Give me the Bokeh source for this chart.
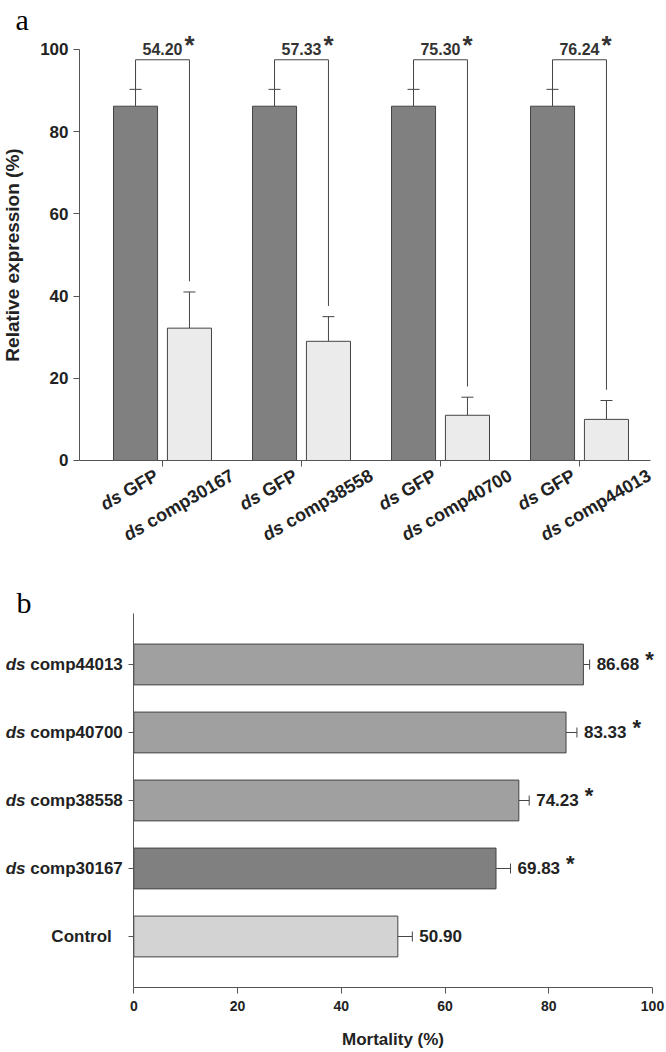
import math
import numpy as np
from bokeh.plotting import figure
from bokeh.models import (ColumnDataSource, Whisker, TeeHead, Label, FixedTicker, Range1d,
                          LinearAxis)
from bokeh.layouts import column
from bokeh.embed import file_html
from bokeh.resources import INLINE
from bokeh.core.properties import value

# ---------------- Panel a data ----------------
GENES = ["ds comp30167", "ds comp38558", "ds comp40700", "ds comp44013"]
CTRL_LABEL = "ds GFP"
CTRL_EXPR = [86.2, 86.2, 86.2, 86.2]
CTRL_ERR = [4.1, 4.1, 4.1, 4.1]
KD_EXPR = [32.2, 29.0, 11.0, 10.0]
KD_ERR = [8.8, 6.0, 4.4, 4.6]
SILENCING = ["54.20", "57.33", "75.30", "76.24"]
Y_TICKS_A = [0, 20, 40, 60, 80, 100]

# ---------------- Panel b data ----------------
MORT_CATS = ["Control", "ds comp30167", "ds comp38558", "ds comp40700", "ds comp44013"]
MORT_VALUES = [50.90, 69.83, 74.23, 83.33, 86.68]
MORT_ERR = [2.8, 2.8, 2.0, 2.1, 1.2]
MORT_SIG = [False, True, True, True, True]
X_TICKS_B = [0, 20, 40, 60, 80, 100]

FONT = "Liberation Sans"
TXT = "#222222"
AX = "#555555"
EDGE = "#444444"

# Liberation Sans Bold advance widths (em) for width estimates
ADV = {"c": .556, "o": .611, "m": .889, "p": .611, "G": .778, "F": .611, "P": .667,
       " ": .278, ".": .278, "C": .722, "n": .611, "t": .333, "r": .389, "l": .278}
def twidth(s, size):
    return sum(ADV.get(ch, .556) for ch in s) * size

def style_axis(ax, size, tick_out):
    ax.minor_tick_line_color = None
    ax.major_tick_in = 0
    ax.major_tick_out = tick_out
    ax.axis_line_color = AX
    ax.major_tick_line_color = AX
    ax.major_label_text_font = FONT
    ax.major_label_text_font_size = f"{size}px"
    ax.major_label_text_font_style = "bold"
    ax.major_label_text_color = TXT

# =============== Figure a ===============
groups = np.arange(1, len(GENES) + 1)
OFF, BW = 0.194, 0.317
xd = groups - OFF
xl = groups + OFF

p1 = figure(width=666, height=556, x_range=Range1d(-0.1655, 4.626), y_range=Range1d(-23.36, 111.92),
            output_backend="svg", toolbar_location=None, min_border=0,
            x_axis_type=None, y_axis_type=None)
p1.frame_align = False
p1.outline_line_color = None
p1.xgrid.visible = False
p1.ygrid.visible = False

yax1 = LinearAxis(fixed_location=0.403, bounds=(0, 100), ticker=FixedTicker(ticks=Y_TICKS_A))
style_axis(yax1, 17, 6)
yax1.major_label_standoff = 5
yax1.axis_label = "Relative expression (%)"
yax1.axis_label_text_font = FONT
yax1.axis_label_text_font_size = "19px"
yax1.axis_label_text_font_style = "bold"
yax1.axis_label_text_color = TXT
yax1.axis_label_standoff = 14
p1.add_layout(yax1, "left")

xax1 = LinearAxis(fixed_location=0, bounds=(0.403, 4.511), ticker=FixedTicker(ticks=list(groups)))
style_axis(xax1, 14, 6)
xax1.major_label_overrides = {int(g): "" for g in groups}
p1.add_layout(xax1, "below")

p1.vbar(x=xd, top=CTRL_EXPR, width=BW, fill_color="#808080", line_color=EDGE, line_width=1)
p1.vbar(x=xl, top=KD_EXPR, width=BW, fill_color="#ebebeb", line_color=EDGE, line_width=1)

wsrc = ColumnDataSource(dict(
    x=list(xd) + list(xl),
    lower=CTRL_EXPR + KD_EXPR,
    upper=[v + e for v, e in zip(CTRL_EXPR, CTRL_ERR)] + [v + e for v, e in zip(KD_EXPR, KD_ERR)]))
p1.add_layout(Whisker(source=wsrc, base="x", lower="lower", upper="upper", dimension="height",
                      line_color=EDGE, line_width=1, lower_head=None,
                      upper_head=TeeHead(size=12, line_color=EDGE, line_width=1)))

BRACKET_Y = 97.5
GAP = 2.6
bxs, bys = [], []
for i in range(len(GENES)):
    bxs.append([xd[i], xd[i], xl[i], xl[i]])
    bys.append([CTRL_EXPR[i] + CTRL_ERR[i], BRACKET_Y, BRACKET_Y, KD_EXPR[i] + KD_ERR[i] + GAP])
p1.multi_line(xs=bxs, ys=bys, line_color=EDGE, line_width=1)

p1.text(x=groups, y=[BRACKET_Y] * len(GENES), text=SILENCING, text_align="center",
        text_baseline="bottom", y_offset=-5, text_font=value(FONT), text_font_size="16px",
        text_font_style="bold", text_color="#333333")
p1.text(x=groups, y=[BRACKET_Y] * len(GENES), text=["*"] * len(GENES), text_align="left",
        text_baseline="bottom", x_offset=22, y_offset=0, text_font=value(FONT),
        text_font_size="26px", text_font_style="bold", text_color="#333333")

ANG = math.pi / 6
def rotated_labels(fig, xs, labels, dx, dy, size):
    pre = [l.split(" ", 1)[0] for l in labels]
    rest = [l.split(" ", 1)[1] for l in labels]
    ys = [0] * len(xs)
    fig.text(x=list(xs), y=ys, text=rest, angle=ANG, text_align="right", text_baseline="top",
             x_offset=dx, y_offset=dy, text_font=value(FONT), text_font_size=f"{size}px",
             text_font_style="bold", text_color=TXT)
    w = twidth(" " + rest[0], size)
    fig.text(x=list(xs), y=ys, text=pre, angle=ANG, text_align="right", text_baseline="top",
             x_offset=dx - w * math.cos(ANG), y_offset=dy + w * math.sin(ANG),
             text_font=value(FONT), text_font_size=f"{size}px",
             text_font_style="bold italic", text_color=TXT)

rotated_labels(p1, xd, [CTRL_LABEL] * len(GENES), 16, 5, 18)
rotated_labels(p1, xl, GENES, 38, 5, 18)

p1.add_layout(Label(x=15, y=537, x_units="screen", y_units="screen", text="a",
                    text_font="Liberation Serif", text_font_size="30px",
                    text_baseline="alphabetic", text_color="#000000"))

# =============== Figure b ===============
ypos = np.arange(1, len(MORT_CATS) + 1)
BAR_COLORS = ["#d3d3d3", "#808080", "#a0a0a0", "#a0a0a0", "#a0a0a0"]

p2 = figure(width=666, height=496, x_range=Range1d(-25.70, 102.70), y_range=Range1d(-0.706, 6.588),
            output_backend="svg", toolbar_location=None, min_border=0,
            x_axis_type=None, y_axis_type=None)
p2.frame_align = False
p2.outline_line_color = None
p2.xgrid.visible = False
p2.ygrid.visible = False

xax2 = LinearAxis(fixed_location=0.25, bounds=(0, 100), ticker=FixedTicker(ticks=X_TICKS_B))
style_axis(xax2, 14, 6)
xax2.major_label_standoff = 8
xax2.axis_label = "Mortality (%)"
xax2.axis_label_text_font = FONT
xax2.axis_label_text_font_size = "17px"
xax2.axis_label_text_font_style = "bold"
xax2.axis_label_text_color = TXT
xax2.axis_label_standoff = 15
p2.add_layout(xax2, "below")

yax2 = LinearAxis(fixed_location=0, bounds=(0.25, 5.75), ticker=FixedTicker(ticks=list(ypos)))
style_axis(yax2, 14, 5)
yax2.major_label_overrides = {int(y): "" for y in ypos}
p2.add_layout(yax2, "left")

p2.hbar(y=ypos, left=0, right=MORT_VALUES, height=0.6, fill_color=BAR_COLORS,
        line_color=EDGE, line_width=1)
msrc = ColumnDataSource(dict(y=list(ypos), lower=MORT_VALUES,
                             upper=[v + e for v, e in zip(MORT_VALUES, MORT_ERR)]))
p2.add_layout(Whisker(source=msrc, base="y", lower="lower", upper="upper", dimension="width",
                      line_color=EDGE, line_width=1, lower_head=None,
                      upper_head=TeeHead(size=10, line_color=EDGE, line_width=1)))

tips = [v + e for v, e in zip(MORT_VALUES, MORT_ERR)]
vlabels = [f"{v:.2f}" for v in MORT_VALUES]
p2.text(x=tips, y=ypos, text=vlabels, x_offset=7, text_align="left", text_baseline="middle",
        text_font=value(FONT), text_font_size="17px", text_font_style="bold", text_color=TXT)
sx = [t for t, s in zip(tips, MORT_SIG) if s]
sy = [y for y, s in zip(ypos, MORT_SIG) if s]
p2.text(x=sx, y=sy, text=["*"] * len(sx), x_offset=7 + twidth(vlabels[-1], 17) + 6, y_offset=-5,
        text_align="left", text_baseline="middle", text_font=value(FONT), text_font_size="22px",
        text_font_style="bold", text_color=TXT)

ds_y = [y for y, c in zip(ypos, MORT_CATS) if c.startswith("ds ")]
ds_rest = [c.split(" ", 1)[1] for c in MORT_CATS if c.startswith("ds ")]
plain_y = [y for y, c in zip(ypos, MORT_CATS) if not c.startswith("ds ")]
plain_t = [c for c in MORT_CATS if not c.startswith("ds ")]
p2.text(x=[0] * len(ds_y), y=ds_y, text=ds_rest, x_offset=-11, text_align="right",
        text_baseline="middle", text_font=value(FONT), text_font_size="17px",
        text_font_style="bold", text_color=TXT)
p2.text(x=[0] * len(ds_y), y=ds_y, text=["ds"] * len(ds_y),
        x_offset=-11 - twidth(" " + ds_rest[0], 17), text_align="right",
        text_baseline="middle", text_font=value(FONT), text_font_size="17px",
        text_font_style="bold italic", text_color=TXT)
p2.text(x=[0] * len(plain_y), y=plain_y, text=plain_t, x_offset=-22, text_align="right",
        text_baseline="middle", text_font=value(FONT), text_font_size="17px",
        text_font_style="bold", text_color=TXT)

p2.add_layout(Label(x=16, y=450, x_units="screen", y_units="screen", text="b",
                    text_font="Liberation Serif", text_font_size="30px",
                    text_baseline="alphabetic", text_color="#000000"))

layout = column(p1, p2)
open("out.html", "w").write(file_html(layout, INLINE))
